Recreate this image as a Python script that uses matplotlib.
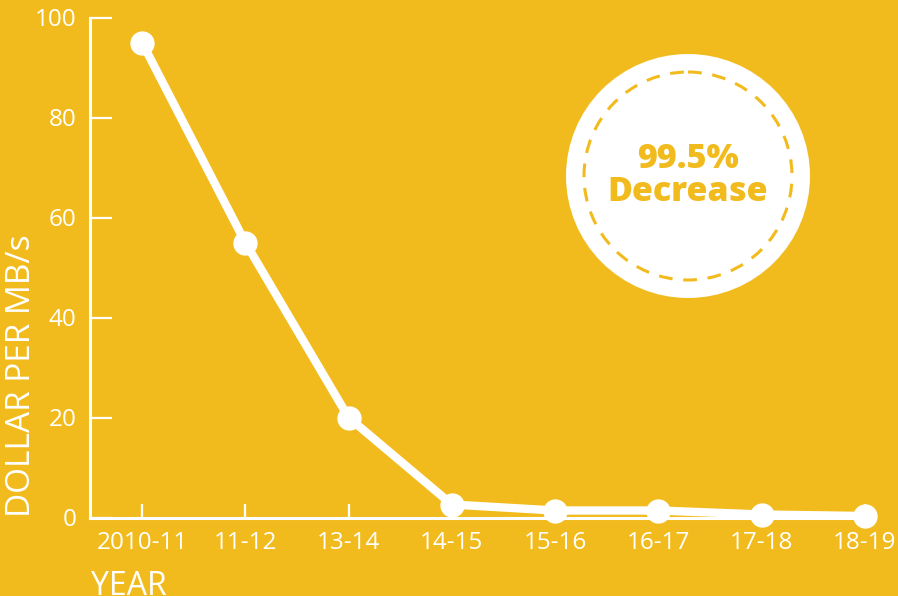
import matplotlib
matplotlib.use("Agg")
import matplotlib.pyplot as plt
from matplotlib.patches import Circle

years = ["2010-11", "11-12", "13-14", "14-15", "15-16", "16-17", "17-18", "18-19"]
dollar_per_mbs = [95, 55, 20, 2.6, 1.4, 1.4, 0.6, 0.3]
y_ticks = [0, 20, 40, 60, 80, 100]
badge_lines = ["99.5%", "Decrease"]

BG = "#F2BB1D"
W, H = 898, 596

plt.rcParams['font.family'] = ['Open Sans', 'DejaVu Sans']

fig = plt.figure(figsize=(W / 100, H / 100), dpi=100, facecolor=BG)

# axes geometry in pixels
left_px, right_px = 90.4, 916.6
top_px, bottom_px = 17.5, 517.5
ax = fig.add_axes([left_px / W, 1 - bottom_px / H, (right_px - left_px) / W, (bottom_px - top_px) / H])
ax.set_facecolor(BG)
ax.patch.set_alpha(0)

x = list(range(len(years)))
ax.plot(x, dollar_per_mbs, color="white", lw=6, marker="o", ms=16.5,
        solid_joinstyle="round", clip_on=False, zorder=5)

ax.set_xlim(-0.5, len(years) - 0.5)
ax.set_ylim(0, 100)
for s in ["top", "right"]:
    ax.spines[s].set_visible(False)
for s in ["left", "bottom"]:
    ax.spines[s].set_color("white")
    ax.spines[s].set_linewidth(2.2)
ax.spines["bottom"].set_bounds(-0.5, len(years) - 1)

ax.set_xticks(x)
ax.set_xticklabels(years)
ax.set_yticks(y_ticks)
ax.set_yticklabels([str(v) for v in y_ticks])
ax.tick_params(axis="x", direction="in", length=10, width=1.6, color="white",
               labelcolor="white", labelsize=17.5, pad=10)
ax.tick_params(axis="y", direction="in", length=16, width=1.6, color="white",
               labelcolor="white", labelsize=17.5, pad=10)

fig.text(22 / W, 1 - 376 / H, "DOLLAR PER MB/s", rotation=90, ha="center", va="center",
         color="white", fontsize=24)
fig.text(91 / W, 1 - 570 / H, "YEAR", ha="left", va="top", color="white", fontsize=23)

# badge
ov = fig.add_axes([0, 0, 1, 1], zorder=10)
ov.set_xlim(0, W)
ov.set_ylim(H, 0)
ov.axis("off")
ov.patch.set_alpha(0)
cx, cy = 688, 176
ov.add_patch(Circle((cx, cy), 122, facecolor="white", edgecolor="none"))
ov.add_patch(Circle((cx, cy), 104, facecolor="none", edgecolor=BG, lw=2.2,
                    linestyle=(0, (4.5, 3.5))))
ov.text(cx, 159, badge_lines[0], ha="center", va="center", color=BG, fontsize=24.5,
        fontweight="heavy")
ov.text(cx, 192, badge_lines[1], ha="center", va="center", color=BG, fontsize=24.5,
        fontweight="heavy")

fig.savefig("out.png", dpi=100, facecolor=BG)
